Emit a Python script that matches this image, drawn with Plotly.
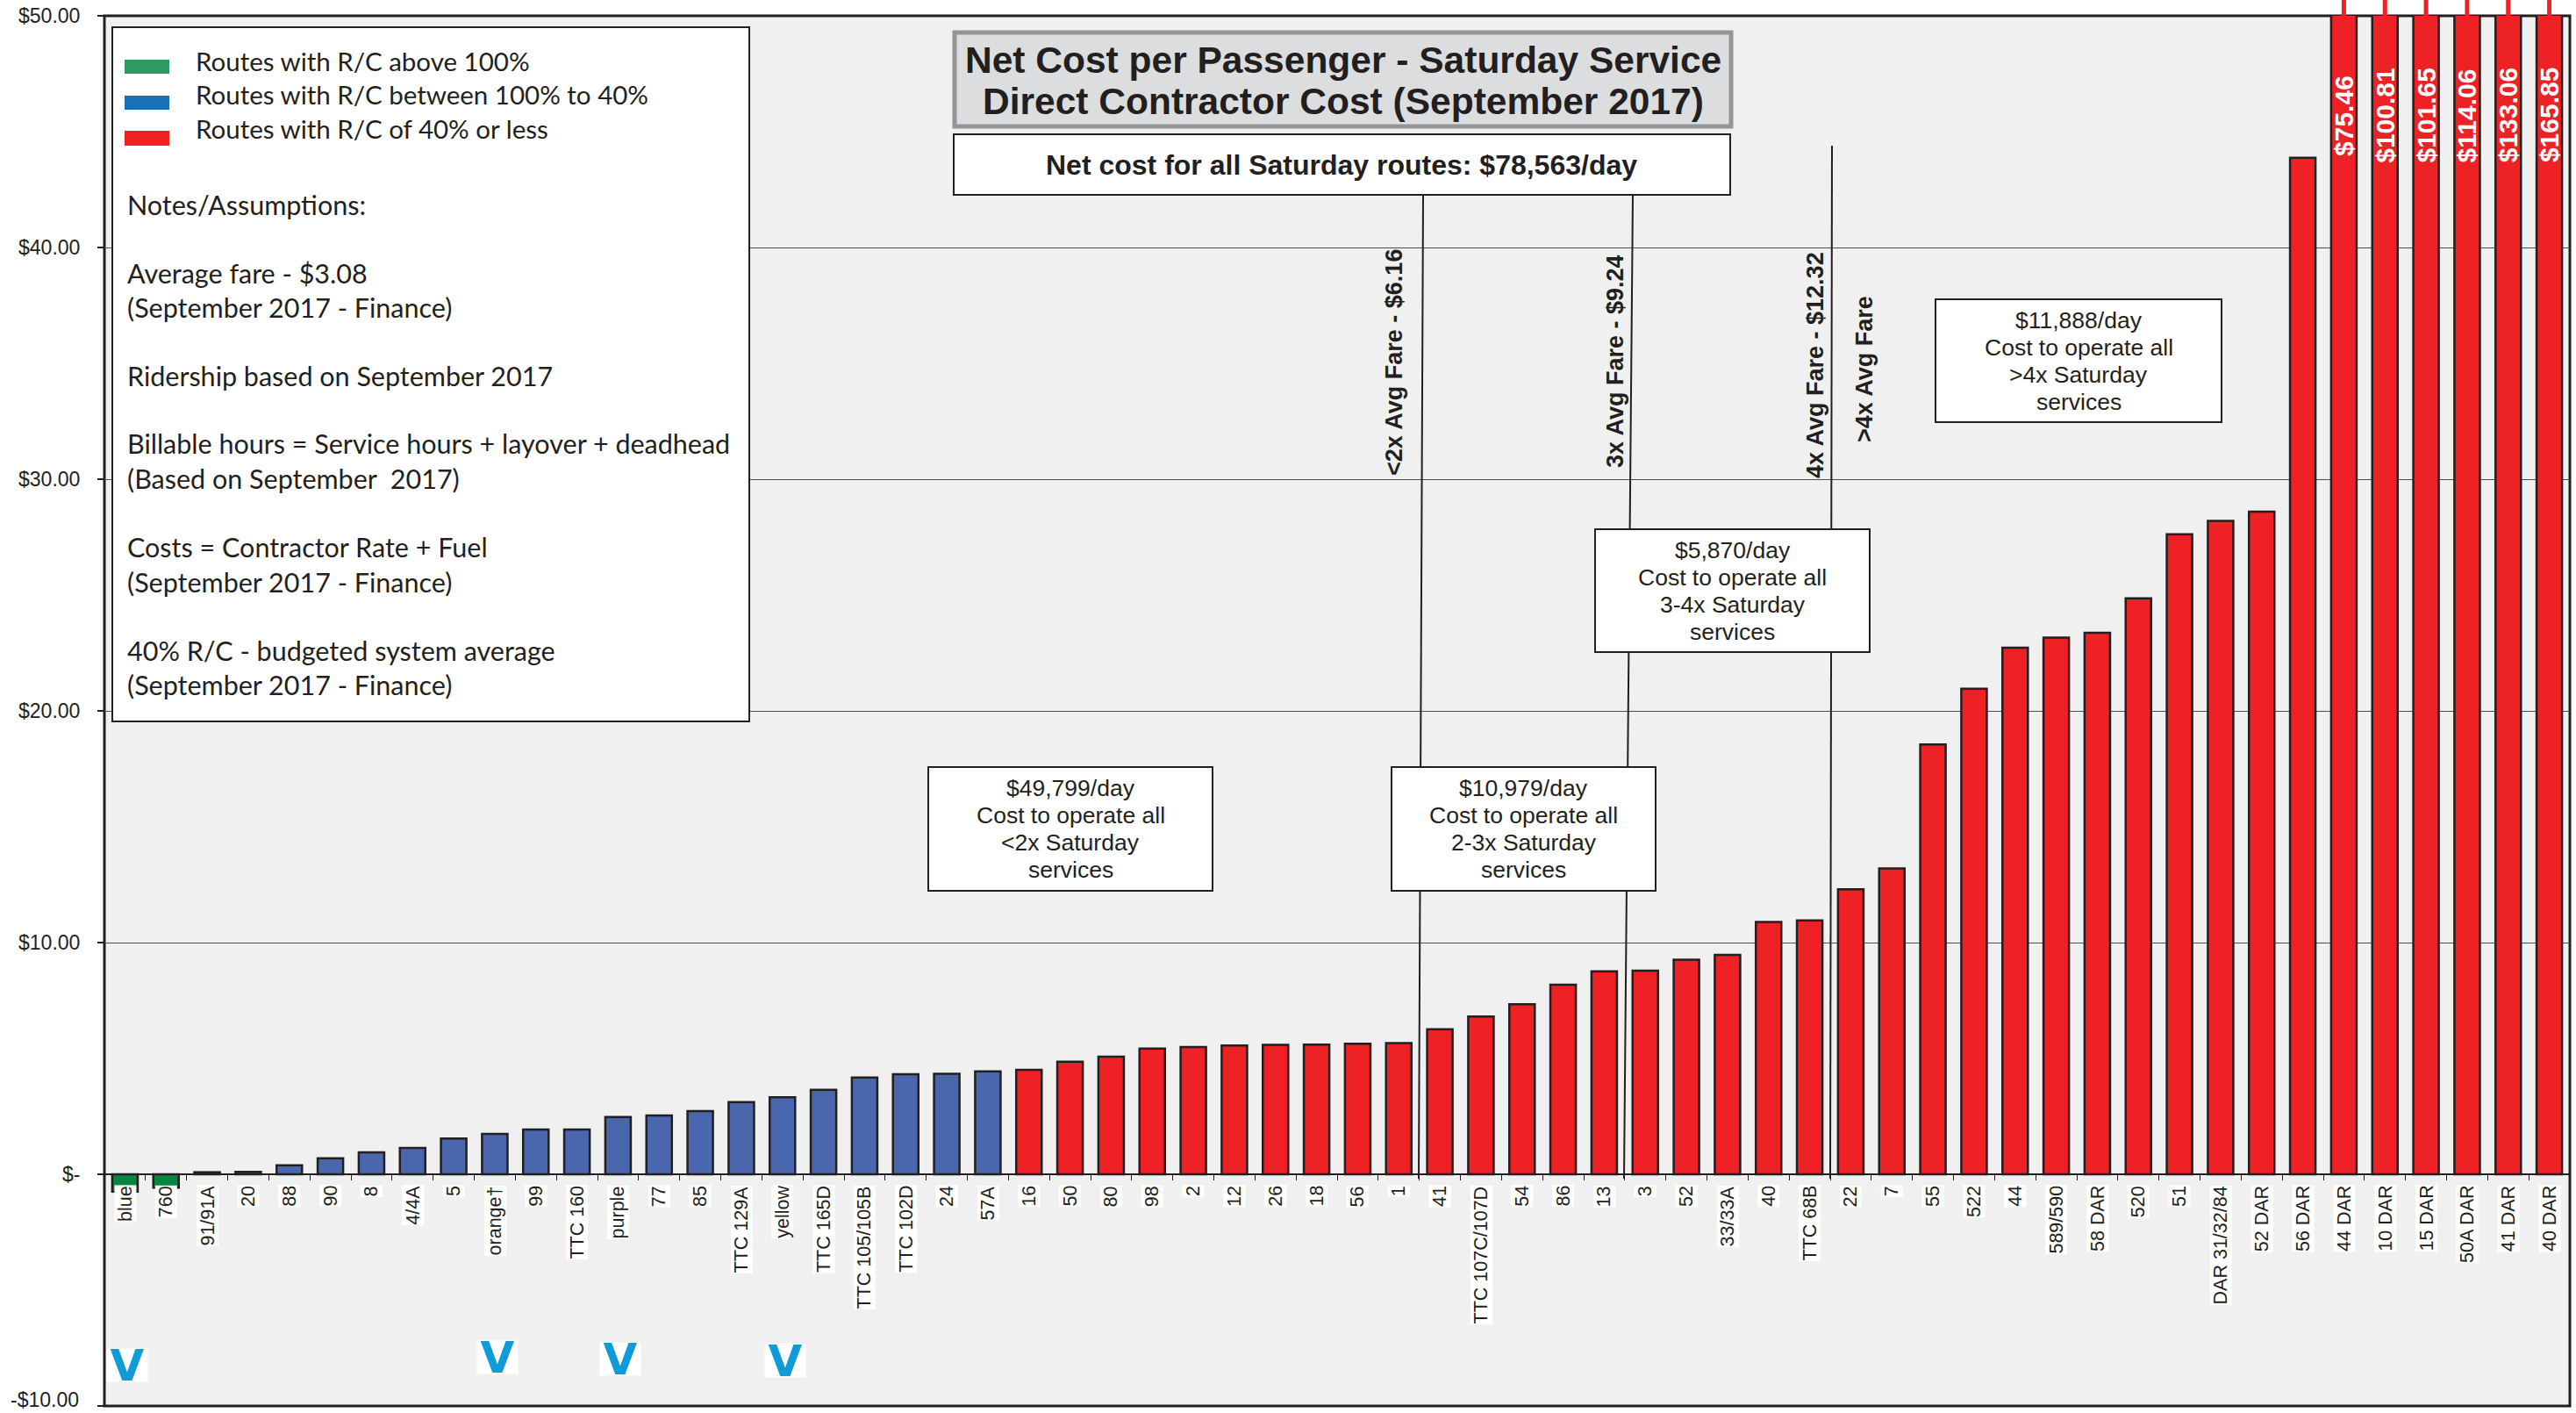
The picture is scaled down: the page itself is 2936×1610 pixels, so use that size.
import plotly.graph_objects as go

# Saturday service routes, sorted by net cost per passenger
routes = ["blue", "760", "91/91A", "20", "88", "90", "8", "4/4A", "5", "orange†",
          "99", "TTC 160", "purple", "77", "85", "TTC 129A", "yellow", "TTC 165D",
          "TTC 105/105B", "TTC 102D", "24", "57A", "16", "50", "80", "98", "2", "12",
          "26", "18", "56", "1", "41", "TTC 107C/107D", "54", "86", "13", "3", "52",
          "33/33A", "40", "TTC 68B", "22", "7", "55", "522", "44", "589/590", "58 DAR",
          "520", "51", "DAR 31/32/84", "52 DAR", "56 DAR", "44 DAR", "10 DAR", "15 DAR",
          "50A DAR", "41 DAR", "40 DAR"]
net_cost_above_100 = [-0.75, -0.58]
net_cost_100_to_40 = [0.09, 0.10, 0.39, 0.69, 0.95, 1.14, 1.54, 1.74, 1.93, 1.93,
                      2.47, 2.54, 2.73, 3.12, 3.32, 3.65, 4.18, 4.32, 4.34, 4.44]
net_cost_40_or_less = [4.51, 4.86, 5.08, 5.43, 5.49, 5.56, 5.59, 5.60, 5.63, 5.66,
                       6.26, 6.81, 7.34, 8.18, 8.76, 8.79, 9.26, 9.47, 10.89, 10.96,
                       12.30, 13.20, 18.55, 20.96, 22.73, 23.16, 23.37, 24.86, 27.62,
                       28.20, 28.60, 43.87, 75.46, 100.81, 101.65, 114.06, 133.06, 165.85]

y_ticks = [0, 10, 20, 30, 40, 50]
y_tick_labels = ["$-", "$10.00", "$20.00", "$30.00", "$40.00", "$50.00"]
y_floor_label = "-$10.00"

legend_items = ["Routes with R/C above 100%", "Routes with R/C between 100% to 40%",
                "Routes with R/C of 40% or less"]
notes = ["Notes/Assumptions:", "Average fare - $3.08", "(September 2017 - Finance)",
         "Ridership based on September 2017",
         "Billable hours = Service hours + layover + deadhead", "(Based on September  2017)",
         "Costs = Contractor Rate + Fuel", "(September 2017 - Finance)",
         "40% R/C - budgeted system average", "(September 2017 - Finance)"]
fare_bands = ["<2x Avg Fare - $6.16", "3x Avg Fare - $9.24", "4x Avg Fare - $12.32", ">4x Avg Fare"]
band_costs = [["$49,799/day", "Cost to operate all", "<2x Saturday", "services"],
              ["$10,979/day", "Cost to operate all", "2-3x Saturday", "services"],
              ["$5,870/day", "Cost to operate all", "3-4x Saturday", "services"],
              ["$11,888/day", "Cost to operate all", ">4x Saturday", "services"]]
logo_routes = ["blue", "orange†", "purple", "yellow"]

INK = "#231f20"
GREEN, BLUE, RED = "#0a8540", "#4a67ae", "#ee2125"
SANS = "Liberation Sans"
W, H = 2936, 1610
L, R, T, B = 119, 2929, 18, 1602


def fx(px):
    return (px - L) / (R - L)


def fy(py):
    return (B - py) / (B - T)


fig = go.Figure()
start = 0
for vals, col, name in [(net_cost_above_100, GREEN, "R/C above 100%"),
                        (net_cost_100_to_40, BLUE, "R/C 100% to 40%"),
                        (net_cost_40_or_less, RED, "R/C 40% or less")]:
    fig.add_bar(x=routes[start:start + len(vals)], y=vals, name=name, width=0.62,
                marker=dict(color=col, line=dict(color=INK, width=2.5)))
    start += len(vals)

shapes = []
annotations = []


def box(x0, y0, x1, y1, fill="white", line=INK, lw=2):
    shapes.append(dict(type="rect", xref="paper", yref="paper", x0=fx(x0), x1=fx(x1),
                       y0=fy(y1), y1=fy(y0), fillcolor=fill, line=dict(color=line, width=lw)))


def text(px, py, s, size, family=SANS, bold=False, color=INK, xanchor="center", angle=0):
    annotations.append(dict(xref="paper", yref="paper", x=fx(px), y=fy(py), text=f"<b>{s}</b>" if bold else s,
                            showarrow=False, xanchor=xanchor, yanchor="middle", textangle=angle,
                            font=dict(family=family, size=size, color=color), borderpad=0))


# plot frame
shapes.append(dict(type="rect", xref="paper", yref="paper", x0=0, x1=1, y0=0, y1=1,
                   layer="below", line=dict(color=INK, width=3)))

# fare threshold lines
for (x0, y0, x1, y1) in [(1622, 222, 1617, 1343), (1861, 222, 1851, 1343), (2088, 166, 2086, 1343)]:
    shapes.append(dict(type="line", xref="paper", yref="paper", x0=fx(x0), x1=fx(x1),
                       y0=fy(y0), y1=fy(y1), line=dict(color=INK, width=2)))

# off-scale bars continue past the top of the frame
for i in range(len(routes) - 6, len(routes)):
    shapes.append(dict(type="line", xref="x", yref="paper", x0=i, x1=i, y0=1, y1=fy(0),
                       line=dict(color=RED, width=5)))

# legend and notes panel
box(128, 31, 854, 822)
for (sy0, sy1, col), ty, item in zip([(68, 84, "#2f9c63"), (109, 125, "#1a6fb9"), (149, 166, RED)],
                                     [69, 107, 147], legend_items):
    shapes.append(dict(type="rect", xref="paper", yref="paper", x0=fx(142), x1=fx(193),
                       y0=fy(sy1), y1=fy(sy0), fillcolor=col, line=dict(width=0)))
    text(222, ty, item, 29.5, family="Lato", xanchor="left")
for ty, note in zip([233, 311, 350, 428, 505, 545, 623, 663, 741, 780], notes):
    text(144, ty, note, 30.5, family="Lato", xanchor="left")

# title panels
box(1088, 37, 1973, 144, fill="#dcddde", line="#939598", lw=5)
text(1531, 68, "Net Cost per Passenger - Saturday Service", 42.5, bold=True)
text(1531, 116, "Direct Contractor Cost (September 2017)", 42.5, bold=True)
box(1087, 153, 1972, 222)
text(1529, 188, "Net cost for all Saturday routes: $78,563/day", 32, bold=True)

# cost callouts for each fare band
for (x0, y0, x1, y1), lines in zip([(1058, 874, 1382, 1015), (1586, 874, 1887, 1015),
                                    (1818, 603, 2131, 743), (2206, 341, 2532, 481)], band_costs):
    box(x0, y0, x1, y1)
    for k, line in enumerate(lines):
        text((x0 + x1) / 2, (y0 + y1) / 2 + (k - 1.5) * 31, line, 26.5)

# fare band captions beside the threshold lines
for (px, py), s in zip([(1589, 413), (1841, 411), (2069, 416), (2125, 421)], fare_bands):
    text(px, py, s, 27, bold=True, angle=-90)

# route labels on white plates below the zero line
for i, route in enumerate(routes):
    annotations.append(dict(xref="x", yref="paper", x=i, y=fy(1350), text=route, showarrow=False,
                            xanchor="center", yanchor="top", textangle=-90, bgcolor="white", borderpad=0,
                            font=dict(family=SANS, size=21.5, color=INK)))

# printed values of the off-scale bars
for i, value in zip(range(len(routes) - 6, len(routes)), net_cost_40_or_less[-6:]):
    annotations.append(dict(xref="x", yref="y", x=i, y=45.7, text=f"<b>${value:.2f}</b>", showarrow=False,
                            xanchor="center", yanchor="middle", textangle=-90,
                            font=dict(family=SANS, size=30, color="white")))

# route logos
for route, cy in zip(logo_routes, [1555, 1546, 1548, 1550]):
    annotations.append(dict(xref="x", yref="paper", x=routes.index(route), y=fy(cy), xshift=3, text="<b>V</b>",
                            showarrow=False, xanchor="center", yanchor="middle", width=46, height=37,
                            bgcolor="white", borderpad=0,
                            font=dict(family="DejaVu Sans", size=50, color="#0f9ad8")))

# lowest axis label sits on the frame edge
text(91, 1595, y_floor_label, 23, xanchor="right")

fig.update_layout(
    width=W, height=H, margin=dict(l=L, r=W - R, t=T, b=H - B, autoexpand=False),
    paper_bgcolor="white", plot_bgcolor="#f0f0f0", barmode="overlay", showlegend=False,
    font=dict(family=SANS, color=INK), shapes=shapes, annotations=annotations,
    xaxis=dict(type="category", categoryorder="array", categoryarray=routes, range=[-0.5, 59.5],
               anchor="free", position=10 / 60, showline=True, linecolor=INK, linewidth=1.5,
               ticks="outside", tickson="boundaries", ticklen=6, tickcolor=INK, tickwidth=1,
               showticklabels=False, showgrid=False, zeroline=False),
    yaxis=dict(range=[-10, 50], tickvals=[-10] + y_ticks, ticktext=[""] + y_tick_labels, ticks="outside",
               ticklen=7, tickcolor=INK, tickwidth=1.5, ticklabelstandoff=15,
               tickfont=dict(family=SANS, size=23, color=INK),
               showgrid=True, gridcolor="#4d4d4d", gridwidth=1, zeroline=False, showline=False),
)

fig.write_html("out.html")
